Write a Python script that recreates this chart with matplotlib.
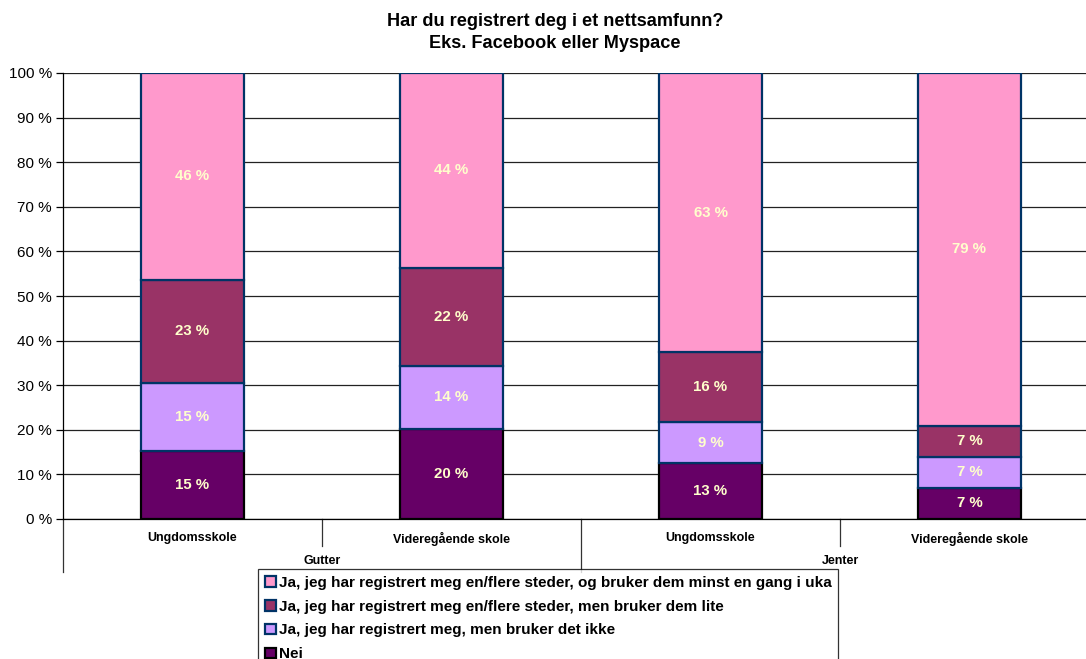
import matplotlib.pyplot as plt
import matplotlib.transforms as mtransforms
import numpy as np

plt.rcParams['font.family'] = ['Liberation Sans', 'DejaVu Sans']

# categories
schools = ['Ungdomsskole', 'Videregående skole', 'Ungdomsskole', 'Videregående skole']
groups = ['Gutter', 'Jenter']

# series (percent of respondents, stacked bottom to top)
series_names = ['Nei',
                'Ja, jeg har registrert meg, men bruker det ikke',
                'Ja, jeg har registrert meg en/flere steder, men bruker dem lite',
                'Ja, jeg har registrert meg en/flere steder, og bruker dem minst en gang i uka']
nei = [15.2, 20.2, 12.6, 7.0]
ikke = [15.4, 14.1, 9.1, 6.9]
lite = [23.0, 22.0, 15.7, 7.0]
minst = [46.4, 43.7, 62.6, 79.1]

colors = ['#660066', '#CC99FF', '#993366', '#FF99CC']
edges = ['#000000', '#003366', '#003366', '#003366']

W, H = 1086, 659
fig = plt.figure(figsize=(W / 100, H / 100), dpi=100)
# plot area runs past the right edge of the picture, as in the original
ax = fig.add_axes([63 / W, 1 - 519 / H, (1099 - 63) / W, (519 - 73) / H])

x = np.arange(len(schools)) + 0.5
bottom = np.zeros(len(schools))
handles = []
for vals, col, ec, name in zip([nei, ikke, lite, minst], colors, edges, series_names):
    vals = np.array(vals)
    bars = ax.bar(x, vals, 0.4, bottom=bottom, color=col, edgecolor=ec, linewidth=1.6,
                  label=name, zorder=3)
    handles.append(bars)
    for xi, b, v in zip(x, bottom, vals):
        ax.text(xi, b + v / 2, f'{round(v):.0f} %', ha='center', va='center', color='#FFFFCC',
                fontsize=10.8, weight='bold', zorder=4)
    bottom += vals

ax.set_xlim(0, 4)
ax.set_ylim(0, 100)
ax.set_yticks(np.arange(0, 101, 10))
ax.set_yticklabels([f'{v} %' for v in range(0, 101, 10)], fontsize=11)
ax.yaxis.grid(True, color='#222222', linewidth=0.9, zorder=0)
ax.set_axisbelow(True)
ax.tick_params(axis='y', direction='out', length=5, width=0.9, pad=3)

ax.set_xticks(x)
ax.set_xticklabels(schools, fontsize=9, weight='bold')
ax.tick_params(axis='x', length=0, pad=9.5)

for s in ['top', 'right']:
    ax.spines[s].set_visible(False)
ax.spines['left'].set_linewidth(0.9)
ax.spines['bottom'].set_linewidth(0.9)

# category separators under the axis
trans = mtransforms.blended_transform_factory(ax.transData, ax.transAxes)
px = 1 / (519 - 73)
for xs, depth in [(0, 53), (1, 27), (2, 53), (3, 27)]:
    ax.plot([xs, xs], [0, -depth * px], color='#333333', lw=0.9, transform=trans, clip_on=False)

for gi, g in enumerate(groups):
    ax.text(1 + 2 * gi, -42 * px, g, transform=trans, ha='center', va='center',
            fontsize=9, weight='bold')

fig.suptitle('Har du registrert deg i et nettsamfunn?\nEks. Facebook eller Myspace',
             x=555 / W, y=1 - 13 / H, va='top', fontsize=13.1, weight='bold', linespacing=1.42)

leg = fig.legend(handles[::-1], series_names[::-1], loc='upper left',
                 bbox_to_anchor=(258 / W, 1 - 569 / H),
                 prop={'weight': 'bold', 'size': 11}, frameon=True, fancybox=False,
                 edgecolor='black', borderpad=0.45, labelspacing=0.64,
                 handlelength=0.7, handleheight=0.7, handletextpad=0.2,
                 borderaxespad=0)
leg.get_frame().set_linewidth(0.9)

fig.savefig('out.png', dpi=100)
